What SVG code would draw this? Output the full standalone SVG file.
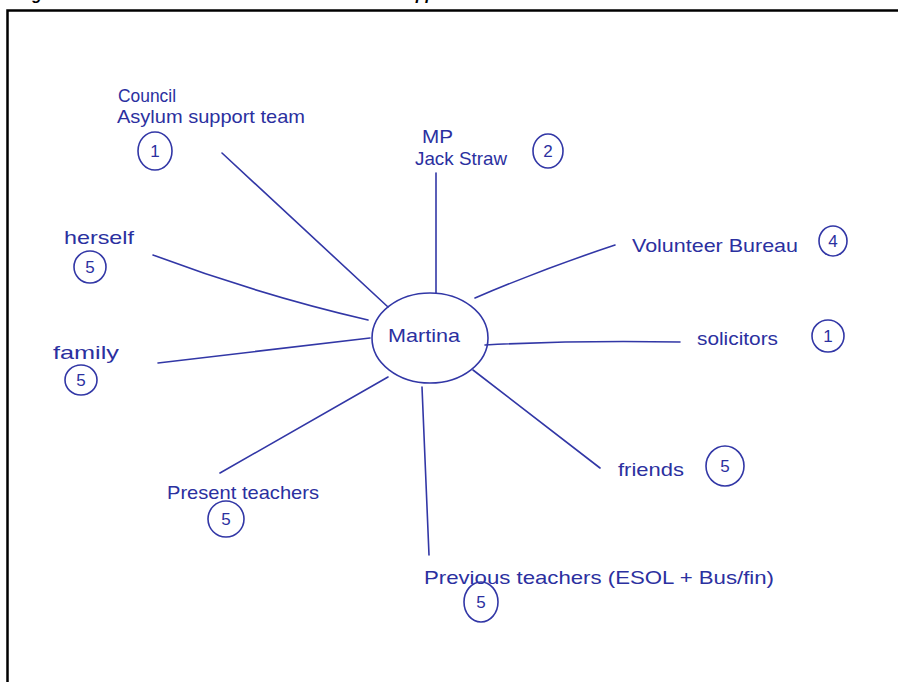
<svg xmlns="http://www.w3.org/2000/svg" width="898" height="682" viewBox="0 0 898 682">
<style>
.ink{fill:none;stroke:#3237a6;stroke-width:1.6;stroke-linecap:round}
.t{font-family:"Liberation Sans","DejaVu Sans",sans-serif;font-size:19px;fill:#2b30a0}
.n{font-family:"Liberation Sans","DejaVu Sans",sans-serif;font-size:17px;fill:#2b30a0;text-anchor:middle}
.cap{font-family:"Liberation Sans",Arial,sans-serif;font-size:16px;font-weight:bold;font-style:italic;fill:#000}
</style>
<rect width="898" height="682" fill="#fff"/>
<text class="cap" x="18" y="0">Figure</text>
<text class="cap" x="397" y="0">support</text>
<path d="M7.5,682 V10.5 H898" fill="none" stroke="#000" stroke-width="2.5"/>
<g id="connectors">
<path class="ink" d="M222,153 L388,307"/>
<path class="ink" d="M436,173 L436,293"/>
<path class="ink" d="M615,245 Q540,270 475,298"/>
<path class="ink" d="M153,255 Q260,295 368,320"/>
<path class="ink" d="M158,363 L370,338"/>
<path class="ink" d="M485,345 Q580,340 680,342"/>
<path class="ink" d="M473,370 L600,468"/>
<path class="ink" d="M388,377 L220,473"/>
<path class="ink" d="M422,387 L429,555"/>
</g>
<g id="martina">
<ellipse class="ink" cx="430" cy="338" rx="58" ry="45"/>
<text class="t" x="388" y="342" textLength="72" lengthAdjust="spacingAndGlyphs">Martina</text>
</g>
<g id="council">
<text class="t" x="118" y="102" textLength="58" lengthAdjust="spacingAndGlyphs">Council</text>
<text class="t" x="117" y="123" textLength="188" lengthAdjust="spacingAndGlyphs">Asylum support team</text>
<ellipse class="ink" cx="155" cy="151" rx="17" ry="19"/>
<text class="n" x="155" y="157">1</text>
</g>
<g id="mp">
<text class="t" x="422" y="143" textLength="31" lengthAdjust="spacingAndGlyphs">MP</text>
<text class="t" x="415" y="165" textLength="92" lengthAdjust="spacingAndGlyphs">Jack Straw</text>
<ellipse class="ink" cx="548" cy="151" rx="15" ry="17"/>
<text class="n" x="548" y="157">2</text>
</g>
<g id="volunteer">
<text class="t" x="632" y="252" textLength="166" lengthAdjust="spacingAndGlyphs">Volunteer Bureau</text>
<ellipse class="ink" cx="833" cy="241" rx="14" ry="15"/>
<text class="n" x="833" y="247">4</text>
</g>
<g id="herself">
<text class="t" x="64" y="244" textLength="70" lengthAdjust="spacingAndGlyphs">herself</text>
<ellipse class="ink" cx="90" cy="267" rx="16" ry="16"/>
<text class="n" x="90" y="273">5</text>
</g>
<g id="family">
<text class="t" x="53" y="359" textLength="66" lengthAdjust="spacingAndGlyphs">family</text>
<ellipse class="ink" cx="81" cy="380" rx="16" ry="15"/>
<text class="n" x="81" y="386">5</text>
</g>
<g id="solicitors">
<text class="t" x="697" y="345" textLength="81" lengthAdjust="spacingAndGlyphs">solicitors</text>
<ellipse class="ink" cx="828" cy="336" rx="16" ry="16"/>
<text class="n" x="828" y="342">1</text>
</g>
<g id="friends">
<text class="t" x="618" y="476" textLength="66" lengthAdjust="spacingAndGlyphs">friends</text>
<ellipse class="ink" cx="725" cy="466" rx="19" ry="20"/>
<text class="n" x="725" y="472">5</text>
</g>
<g id="present">
<text class="t" x="167" y="499" textLength="152" lengthAdjust="spacingAndGlyphs">Present teachers</text>
<ellipse class="ink" cx="226" cy="519" rx="18" ry="18"/>
<text class="n" x="226" y="525">5</text>
</g>
<g id="previous">
<text class="t" x="424" y="584" textLength="350" lengthAdjust="spacingAndGlyphs">Previous teachers (ESOL + Bus/fin)</text>
<ellipse class="ink" cx="481" cy="602" rx="17" ry="20"/>
<text class="n" x="481" y="608">5</text>
</g>
</svg>
